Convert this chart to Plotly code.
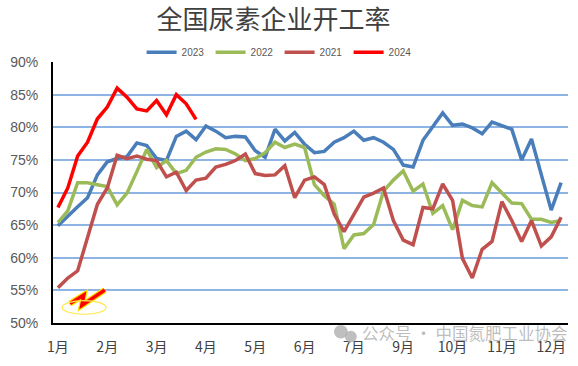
import plotly.graph_objects as go

# ---- data (weekly operating rate, %) ----
weeks = list(range(52))
tick_pos = [0, 5, 10, 15, 20, 25, 30, 35, 40, 45, 50]
tick_labels = ["1月", "2月", "3月", "4月", "5月", "6月", "7月", "9月", "10月", "11月", "12月"]
y_ticks = [50, 55, 60, 65, 70, 75, 80, 85, 90]
y_tick_labels = ["50%", "55%", "60%", "65%", "70%", "75%", "80%", "85%", "90%"]

y2023 = [64.9, 66.4, 67.8, 69.2, 72.7, 74.7, 75.2, 75.5, 77.6, 77.2, 75.2, 74.9, 78.6,
         79.4, 78.1, 80.2, 79.4, 78.4, 78.6, 78.5, 76.4, 75.4, 79.7, 77.9, 79.2,
         77.4, 76.1, 76.3, 77.7, 78.4, 79.4, 78.0, 78.4, 77.7, 76.6, 74.2, 73.9, 78.0,
         80.1, 82.2, 80.3, 80.5, 79.9, 79.0, 80.8, 80.3, 79.7, 75.0, 78.2, 72.7, 67.3, 71.5]
y2022 = [65.4, 67.2, 71.5, 71.5, 71.2, 70.9, 68.1, 69.9, 73.2, 76.6, 73.8, 74.9, 72.9,
         73.4, 75.4, 76.2, 76.7, 76.6, 75.9, 74.9, 75.2, 76.1, 77.7, 76.9, 77.4,
         76.9, 71.2, 69.5, 68.2, 61.4, 63.5, 63.7, 65.1, 70.2, 71.9, 73.3, 70.2, 71.3,
         66.8, 68.0, 64.3, 68.8, 68.0, 67.8, 71.5, 70.0, 68.4, 68.3, 65.9, 65.9, 65.4, 65.7]
y2021 = [55.4, 56.9, 58.0, 63.3, 68.2, 70.7, 75.7, 75.2, 75.6, 75.1, 74.9, 72.4, 73.1,
         70.3, 71.9, 72.2, 73.9, 74.3, 74.9, 75.9, 72.9, 72.6, 72.7, 74.1, 69.2,
         71.9, 72.4, 71.2, 66.7, 64.0, 66.7, 69.3, 69.9, 70.7, 65.7, 62.7, 62.0, 67.7,
         67.5, 71.3, 68.8, 59.9, 56.9, 61.3, 62.5, 68.6, 65.7, 62.5, 65.7, 61.8, 63.2, 66.2]
y2024 = [67.7, 70.7, 75.6, 77.7, 81.3, 83.1, 86.0, 84.6, 82.8, 82.5, 84.1, 81.9, 85.0,
         83.6, 81.2]

series = [
    ("2023", y2023, "#4A7EBB"),
    ("2022", y2022, "#9BBB59"),
    ("2021", y2021, "#C0504D"),
    ("2024", y2024, "#FF0000"),
]

fig = go.Figure()
for name, vals, color in series:
    fig.add_trace(go.Scatter(
        x=weeks[:len(vals)], y=vals, name=name, mode="lines",
        line=dict(color=color, width=3.5),
    ))

# decorative squiggle + ellipse (from original picture)
squiggle = "M 1.21,52.97 L 2.63,54.3 L 2.42,52.7 L 4.75,55.05"
fig.add_shape(type="path", path=squiggle, xref="x", yref="y",
              line=dict(color="#FFE000", width=6))
fig.add_shape(type="path", path=squiggle, xref="x", yref="y",
              line=dict(color="#FF0000", width=3.5))
fig.add_shape(type="circle", xref="x", yref="y", x0=0.43, x1=4.88, y0=51.34, y1=53.42,
              line=dict(color="#FFE94A", width=1.2))

# watermark icon
fig.add_shape(type="circle", xref="paper", yref="paper", x0=0.5455, x1=0.5725,
              y0=-0.0595, y1=-0.0074, fillcolor="rgba(175,175,175,0.8)", line=dict(width=0))
fig.add_shape(type="circle", xref="paper", yref="paper", x0=0.5667, x1=0.5899,
              y0=-0.0743, y1=-0.0297, fillcolor="rgba(175,175,175,0.8)", line=dict(width=0))
fig.add_annotation(text="公众号 · 中国氮肥工业协会", xref="paper", yref="paper",
                   x=0.596, y=-0.037, xanchor="left", yanchor="middle", showarrow=False,
                   font=dict(family="Noto Sans CJK SC", size=16.5, color="rgba(160,160,160,0.7)"))

fig.update_layout(
    width=578, height=366,
    margin=dict(l=51, r=10, t=62, b=35),
    paper_bgcolor="white", plot_bgcolor="white",
    title=dict(text="全国尿素企业开工率", x=0.473, xanchor="center", y=0.945, yanchor="middle",
               font=dict(family="Noto Sans CJK SC", size=26, color="#404040")),
    legend=dict(orientation="h", x=0.44, xanchor="center", y=1.037, yanchor="middle",
                font=dict(family="Liberation Sans", size=10, color="#595959"),
                itemwidth=30, entrywidth=24, entrywidthmode="pixels",
                bgcolor="rgba(0,0,0,0)"),
    showlegend=True,
    font=dict(family="Noto Sans CJK SC"),
)
fig.update_xaxes(range=[-0.5, 51.7], tickmode="array", tickvals=tick_pos, ticktext=tick_labels,
                 showgrid=False, zeroline=False, showline=True, linecolor="black", linewidth=2,
                 ticks="", ticklabelstandoff=10,
                 tickfont=dict(family="Noto Sans CJK SC", size=14, color="#404040"))
fig.update_yaxes(range=[50, 90], tickmode="array", tickvals=y_ticks, ticktext=y_tick_labels,
                 showgrid=True, gridcolor="#8DB4E2", gridwidth=1.5, zeroline=False,
                 showline=True, linecolor="black", linewidth=2, ticks="", ticklabelstandoff=10,
                 tickfont=dict(family="Liberation Sans", size=14, color="#595959"))

fig.write_html("out.html")
